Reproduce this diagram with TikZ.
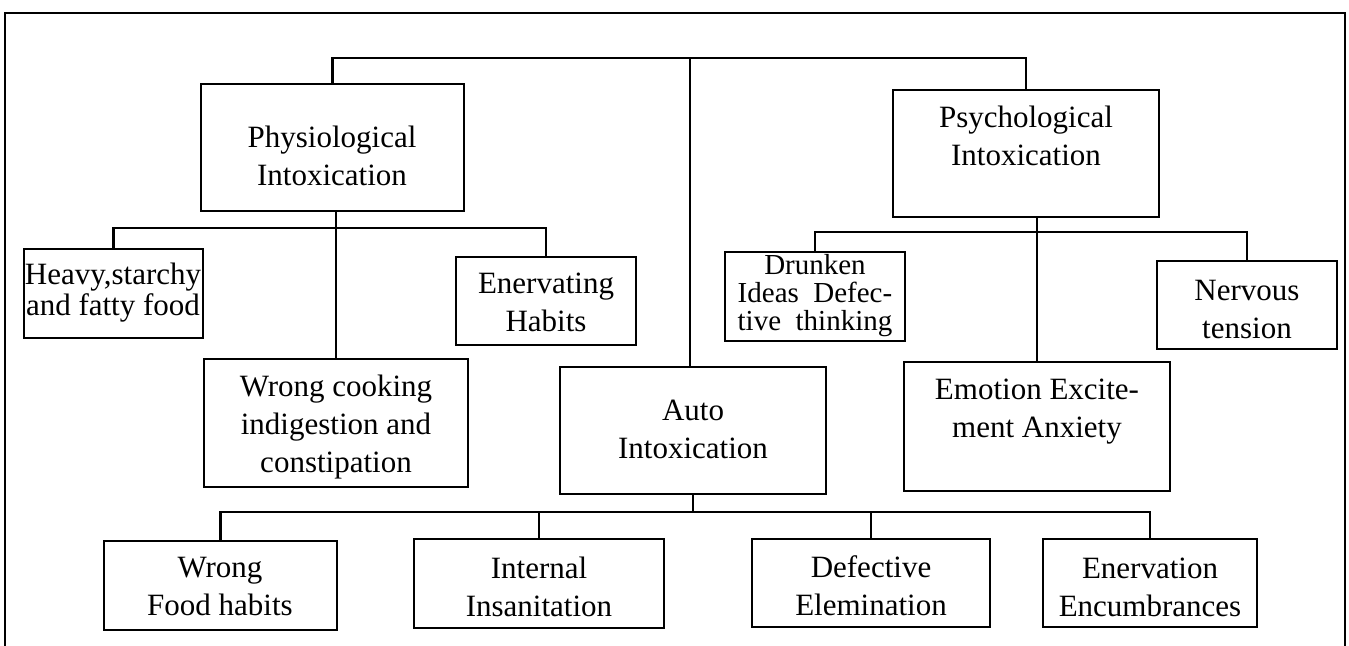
\documentclass[tikz,border=0pt]{standalone}
\usepackage{fontspec}
\setmainfont{Liberation Serif}
\usetikzlibrary{fit}
\begin{document}
\begin{tikzpicture}[x=0.5pt,y=-0.5pt,
  box/.style={draw=black, line width=1.4pt, inner sep=0pt, rectangle},
  txt/.style={align=center, inner sep=0pt, font=\fontsize{15.5}{19}\selectfont},
  tight/.style={align=center, inner sep=0pt, font=\fontsize{14.5}{14}\selectfont},
  conn/.style={draw=black, line width=1.3pt},
  frame/.style={draw=black, line width=1pt}]
\useasboundingbox (0,0) rectangle (1349,646);
\draw[frame] (5,646) -- (5,13) -- (1345,13) -- (1345,646);

% boxes
\node[box, fit={(201,84) (464,211)}] (phys) {};
\node[box, fit={(893,90) (1159,217)}] (psych) {};
\node[box, fit={(24,249) (203,338)}] (heavy) {};
\node[box, fit={(456,257) (636,345)}] (enhab) {};
\node[box, fit={(204,359) (468,487)}] (wc) {};
\node[box, fit={(560,367) (826,494)}] (auto) {};
\node[box, fit={(725,252) (905,341)}] (drunk) {};
\node[box, fit={(1157,261) (1337,349)}] (nerv) {};
\node[box, fit={(904,362) (1170,491)}] (emo) {};
\node[box, fit={(104,541) (337,630)}] (wfh) {};
\node[box, fit={(414,539) (664,628)}] (ins) {};
\node[box, fit={(752,539) (990,627)}] (def) {};
\node[box, fit={(1043,539) (1257,627)}] (enc) {};

% texts
\node[txt] (tphys) at (332,156) {Physiological\\Intoxication};
\node[txt] (tpsych) at (1026,136) {Psychological\\Intoxication};
\node[txt, font=\fontsize{15.5}{15.5}\selectfont] (theavy) at (113,293) {Heavy,starchy\\and fatty food};
\node[txt] (tenhab) at (546,302) {Enervating\\Habits};
\node[txt] (twc) at (336,427) {Wrong cooking\\indigestion and\\constipation};
\node[txt] (tauto) at (693,429) {Auto\\Intoxication};
\node[tight] (tdrunk) at (815,296) {Drunken\\Ideas \ Defec-\\tive \ thinking};
\node[txt] (tnerv) at (1247,310) {Nervous\\tension};
\node[txt] (temo) at (1037,412) {Emotion Excite-\\ment Anxiety};
\node[txt] (twfh) at (220,587) {Wrong\\Food habits};
\node[txt] (tins) at (539,587) {Internal\\Insanitation};
\node[txt] (tdef) at (871,586) {Defective\\Elemination};
\node[txt] (tenc) at (1150,587) {Enervation\\Encumbrances};

% connectors
\coordinate (tb) at (690,58);
\draw[conn] (phys.north) |- (tb) -| (psych.north);
\draw[conn] (tb) -- (tb |- auto.north);

\coordinate (pb) at (335,228);
\draw[conn] (heavy.north) |- (pb) -| (enhab.north);
\draw[conn] (wc.north) -- (wc.north |- phys.south);

\coordinate (qb) at (1035,232);
\draw[conn] (drunk.north) |- (qb) -| (nerv.north);
\draw[conn] (emo.north) -- (emo.north |- psych.south);

\coordinate (ab) at (690,512);
\draw[conn] (auto.south) -- (auto.south |- ab);
\draw[conn] (wfh.north) |- (ab) -| (enc.north);
\draw[conn] (ins.north) -- (ins.north |- ab);
\draw[conn] (def.north) -- (def.north |- ab);
\end{tikzpicture}
\end{document}
